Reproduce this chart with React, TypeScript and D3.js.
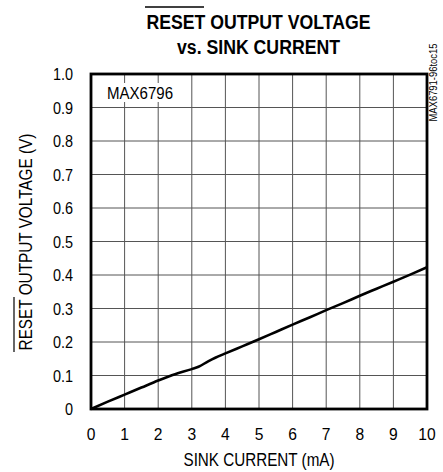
import React from "react";
import * as d3 from "d3";

const sinkCurrent = [0, 0.5, 1, 1.5, 2, 2.5, 3, 3.2, 3.5, 3.7, 4, 4.5, 5, 5.5, 6, 6.5, 7, 7.5, 8, 8.5, 9, 9.5, 10];
const outputVoltage = [0, 0.022, 0.043, 0.064, 0.085, 0.104, 0.119, 0.126, 0.143, 0.153, 0.166, 0.187, 0.208, 0.23, 0.252, 0.273, 0.295, 0.316, 0.338, 0.359, 0.38, 0.401, 0.423];
const xTicks = [0, 1, 2, 3, 4, 5, 6, 7, 8, 9, 10];
const yTicks = [0, 0.1, 0.2, 0.3, 0.4, 0.5, 0.6, 0.7, 0.8, 0.9, 1.0];
const yTickLabels = ["0", "0.1", "0.2", "0.3", "0.4", "0.5", "0.6", "0.7", "0.8", "0.9", "1.0"];

const FONT = "'Liberation Sans Narrow', 'Arial Narrow', 'Liberation Sans', Arial, sans-serif";

type NProps = {
  x: number; y: number; sx?: number; rot?: number; size: number;
  anchor?: "start" | "middle" | "end"; bold?: boolean; children: React.ReactNode;
};
function NText({ x, y, sx = 0.87, rot = 0, size, anchor = "start", bold = false, children }: NProps) {
  return (
    <text
      transform={`translate(${x},${y}) rotate(${rot}) scale(${sx},1)`}
      textAnchor={anchor}
      fontSize={size}
      fontWeight={bold ? "bold" : "normal"}
      fill="#000"
    >
      {children}
    </text>
  );
}

export default function App() {
  const W = 443, H = 472;
  const L = 91, R = 427, T = 74, B = 409;
  const x = d3.scaleLinear().domain([0, 10]).range([L, R]);
  const y = d3.scaleLinear().domain([0, 1]).range([B, T]);
  const line = d3.line<number>().x((_, i) => x(sinkCurrent[i])).y((d) => y(d)).curve(d3.curveMonotoneX);
  return (
    <svg width={W} height={H} style={{ position: "absolute", left: 0, top: 0 }} fontFamily={FONT}>
      <rect width={W} height={H} fill="#fff" />
      {/* Title */}
      <NText x={258.5} y={29} size={20.5} sx={0.863} anchor="middle" bold>RESET OUTPUT VOLTAGE</NText>
      <line x1={145} x2={204} y1={7} y2={7} stroke="#000" strokeWidth={1.3} />
      <NText x={258.5} y={54} size={20.5} sx={0.863} anchor="middle" bold>vs. SINK CURRENT</NText>
      {/* grid */}
      {xTicks.slice(1, -1).map((t) => (
        <line key={"gx" + t} x1={x(t)} x2={x(t)} y1={T} y2={B} stroke="#555" strokeWidth={1} />
      ))}
      {yTicks.slice(1, -1).map((t) => (
        <line key={"gy" + t} x1={L} x2={R} y1={y(t)} y2={y(t)} stroke="#555" strokeWidth={1} />
      ))}
      {/* data */}
      <path d={line(outputVoltage) || ""} fill="none" stroke="#000" strokeWidth={2.6} />
      <rect x={L} y={T} width={R - L} height={B - T} fill="none" stroke="#000" strokeWidth={2.8} />
      {/* labels */}
      <rect x={104} y={83} width={72} height={19} fill="#fff" />
      <NText x={107} y={99} size={17} sx={0.885}>MAX6796</NText>
      {xTicks.map((t) => (
        <NText key={"xt" + t} x={x(t)} y={440} size={17} sx={0.92} anchor="middle">{t}</NText>
      ))}
      {yTicks.map((t, i) => (
        <NText key={"yt" + t} x={73} y={y(t) + 6.3} size={17} sx={0.85} anchor="end">{yTickLabels[i]}</NText>
      ))}
      <NText x={259} y={466} size={17.5} sx={0.87} anchor="middle">SINK CURRENT (mA)</NText>
      <NText x={31.5} y={242} size={17.5} sx={0.877} rot={-90} anchor="middle">RESET OUTPUT VOLTAGE (V)</NText>
      <line x1={14} x2={14} y1={352} y2={297} stroke="#000" strokeWidth={1.2} />
      <NText x={437} y={82.5} size={10.5} sx={0.9} rot={-90} anchor="middle">MAX6791-96toc15</NText>
    </svg>
  );
}
